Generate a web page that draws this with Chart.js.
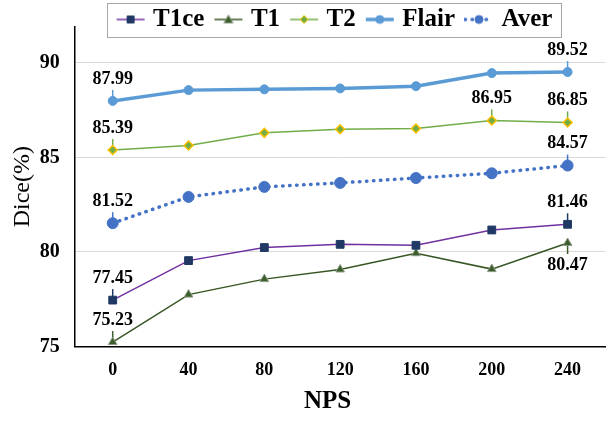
<!DOCTYPE html>
<html>
<head>
<meta charset="utf-8">
<script src="https://cdn.jsdelivr.net/npm/chart.js@4.4.1/dist/chart.umd.min.js"></script>
<style>
  html, body { margin: 0; padding: 0; background: #fff; }
  #wrap { width: 612px; height: 423px; }
</style>
</head>
<body>
<div id="wrap"><canvas id="diceChart" width="612" height="423"></canvas></div>
<script>
// values
const nps = ['0', '40', '80', '120', '160', '200', '240'];
const t1ce = [77.45, 79.54, 80.23, 80.40, 80.35, 81.16, 81.46];
const t1 = [75.23, 77.74, 78.56, 79.07, 79.93, 79.09, 80.47];
const t2 = [85.39, 85.63, 86.30, 86.49, 86.53, 86.95, 86.85];
const flair = [87.99, 88.56, 88.60, 88.65, 88.77, 89.46, 89.52];
const aver = [81.52, 82.91, 83.44, 83.65, 83.91, 84.16, 84.57];
const yTicks = [75, 80, 85, 90];
// points that carry a value label: [series, index, side] (-1 above, 1 below)
const valueLabels = [
  [0, 0, -1], [0, 6, -1],
  [1, 0, -1], [1, 6, 1],
  [2, 0, -1], [2, 5, -1], [2, 6, -1],
  [3, 0, -1], [3, 6, -1],
  [4, 0, -1], [4, 6, -1]
];

const serif = '"Liberation Serif", "Times New Roman", serif';
const legendShiftX = 33;
const legendTop = -7;

// little line + marker picture for each legend entry
function legendIcon(ds) {
  const c = document.createElement('canvas');
  c.width = 30; c.height = 16;
  const g = c.getContext('2d');
  g.strokeStyle = ds.borderColor;
  g.lineWidth = ds.borderWidth;
  g.lineCap = ds.borderCapStyle || 'butt';
  g.setLineDash(ds.borderDash || []);
  g.beginPath(); g.moveTo(1, 8); g.lineTo(29, 8); g.stroke();
  g.setLineDash([]);
  g.fillStyle = ds.pointBackgroundColor;
  g.strokeStyle = ds.pointBorderColor;
  g.lineWidth = 1;
  g.beginPath();
  switch (ds.pointStyle) {
    case 'rect': g.rect(11.5, 4.5, 7, 7); break;
    case 'triangle': g.moveTo(15, 3.5); g.lineTo(19.5, 11.5); g.lineTo(10.5, 11.5); g.closePath(); break;
    case 'rectRot': g.moveTo(15, 4); g.lineTo(19, 8); g.lineTo(15, 12); g.lineTo(11, 8); g.closePath(); break;
    default: g.arc(15, 8, 4, 0, Math.PI * 2);
  }
  g.fill(); g.stroke();
  return c;
}

// legend sits over the top of the plot, inside a grey frame
const legendPlace = {
  id: 'legendPlace',
  afterLayout(chart) {
    const lg = chart.legend;
    lg.left += legendShiftX; lg.right += legendShiftX;
    lg.top = legendTop;
    lg.height = 50;
    lg.bottom = legendTop + 50;
  },
  afterDraw(chart) {
    const hb = chart.legend.legendHitBoxes;
    if (!hb || !hb.length) return;
    const first = hb[0], last = hb[hb.length - 1];
    const ctx = chart.ctx;
    ctx.save();
    ctx.strokeStyle = '#A6A6A6';
    ctx.lineWidth = 1;
    const x0 = Math.round(first.left - 14) + 0.5;
    const x1 = Math.round(last.left + last.width + 9) + 0.5;
    ctx.strokeRect(x0, 3.5, x1 - x0, 34);
    ctx.restore();
  }
};

const pointLabels = {
  id: 'pointLabels',
  beforeDatasetsDraw(chart) {
    const ctx = chart.ctx;
    ctx.save();
    ctx.lineWidth = 1.5;
    valueLabels.forEach(([s, i, side]) => {
      const pt = chart.getDatasetMeta(s).data[i];
      ctx.strokeStyle = chart.data.datasets[s].pointBackgroundColor;
      ctx.beginPath();
      ctx.moveTo(pt.x, pt.y);
      ctx.lineTo(pt.x, pt.y + side * 11);
      ctx.stroke();
    });
    ctx.restore();
  },
  afterDatasetsDraw(chart) {
    const ctx = chart.ctx;
    ctx.save();
    ctx.font = 'bold 18px ' + serif;
    ctx.fillStyle = '#000';
    ctx.textAlign = 'center';
    ctx.textBaseline = 'middle';
    valueLabels.forEach(([s, i, side]) => {
      const pt = chart.getDatasetMeta(s).data[i];
      ctx.fillText(chart.data.datasets[s].data[i].toFixed(2), pt.x, pt.y + side * 22);
    });
    ctx.restore();
  }
};

const datasets = [
  { label: 'T1ce', data: t1ce, borderColor: '#7030A0', borderWidth: 1.5,
    pointStyle: 'rect', pointRadius: 5.5, pointBackgroundColor: '#1F3864', pointBorderColor: '#1F3864', pointBorderWidth: 1 },
  { label: 'T1', data: t1, borderColor: '#375623', borderWidth: 1.5,
    pointStyle: 'triangle', pointRadius: 5, pointBackgroundColor: '#3B5E2B', pointBorderColor: '#8C9A84', pointBorderWidth: 1 },
  { label: 'T2', data: t2, borderColor: '#70AD47', borderWidth: 1.5,
    pointStyle: 'rectRot', pointRadius: 4.5, pointBackgroundColor: '#70AD47', pointBorderColor: '#FFC000', pointBorderWidth: 1.5 },
  { label: 'Flair', data: flair, borderColor: '#5B9BD5', borderWidth: 3.5,
    pointStyle: 'circle', pointRadius: 4.5, pointBackgroundColor: '#5B9BD5', pointBorderColor: '#5B9BD5', pointBorderWidth: 1 },
  { label: 'Aver', data: aver, borderColor: '#4472C4', borderWidth: 3.5, borderDash: [0.5, 6.5], borderCapStyle: 'round',
    pointStyle: 'circle', pointRadius: 5.5, pointBackgroundColor: '#4472C4', pointBorderColor: '#4472C4', pointBorderWidth: 1 }
];
datasets.forEach(ds => { ds.clip = false; ds.tension = 0; ds.fill = false; });

new Chart(document.getElementById('diceChart'), {
  type: 'line',
  data: { labels: nps, datasets: datasets },
  plugins: [legendPlace, pointLabels],
  options: {
    responsive: false,
    devicePixelRatio: 1,
    animation: false,
    layout: { padding: { top: 25, right: 5, left: 0, bottom: 0 } },
    plugins: {
      tooltip: { enabled: false },
      legend: {
        position: 'top',
        maxHeight: 1,
        labels: {
          font: { family: serif, size: 25, weight: 'bold' },
          color: '#000',
          usePointStyle: true,
          pointStyleWidth: 20,
          padding: 14,
          generateLabels(chart) {
            return chart.data.datasets.map((ds, i) => ({
              text: ds.label, pointStyle: legendIcon(ds), datasetIndex: i,
              hidden: false, lineWidth: 0, fontColor: '#000'
            }));
          }
        }
      }
    },
    scales: {
      x: {
        offset: true,
        border: { color: '#000', width: 1.5 },
        grid: { drawOnChartArea: false, drawTicks: false },
        ticks: { padding: 13, font: { family: serif, size: 18, weight: 'bold' }, color: '#000' },
        title: { display: true, text: 'NPS\u2003', color: '#000',
          font: { family: serif, size: 25, weight: 'bold' }, padding: { top: -7, bottom: 6 } }
      },
      y: {
        min: 75,
        max: 91.9,
        ticks: {
          stepSize: 5,
          padding: 15,
          font: { family: serif, size: 20, weight: 'bold' },
          color: '#000',
          callback: v => yTicks.includes(v) ? String(v) : ''
        },
        border: { color: '#000', width: 1.5 },
        grid: {
          drawTicks: false,
          lineWidth: 1,
          color: c => (c.tick && yTicks.includes(c.tick.value) && c.tick.value !== 75) ? '#D9D9D9' : 'rgba(0,0,0,0)'
        },
        title: { display: true, text: 'Dice(%)', color: '#000',
          font: { family: serif, size: 24 }, padding: { top: 8, bottom: -12 } }
      }
    }
  }
});
</script>
</body>
</html>
